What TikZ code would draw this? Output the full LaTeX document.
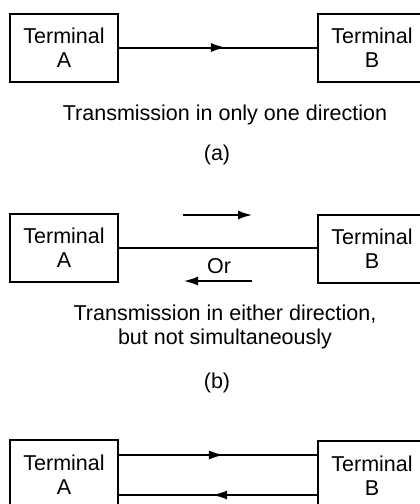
\documentclass[tikz,border=0pt]{standalone}
\usepackage{fontspec}
\setmainfont{Liberation Sans}
\usetikzlibrary{arrows.meta,decorations.markings}
\tikzset{
  term/.style={draw, line width=2pt, minimum width=108pt, minimum height=68pt,
    inner sep=0pt, align=center, font=\fontsize{21.5}{24}\selectfont},
  captext/.style={align=center, font=\fontsize{21.5}{24}\selectfont, inner sep=0pt},
  wire/.style={line width=2pt},
  midarrow/.style={postaction={decorate}, decoration={markings,
    mark=at position #1 with {\arrow{Latex[length=15pt,width=9pt]}}}},
  freearrow/.style={line width=1.5pt, -{Latex[length=14pt,width=9pt]}}
}
\begin{document}
\begin{tikzpicture}[x=1pt,y=-1pt]
\useasboundingbox (0,0) rectangle (420,504);
\clip (0,0) rectangle (420,504);
% (a)
\node[term] (a1) at (64,47.5) {Terminal\\A};
\node[term] (b1) at (372,48) {Terminal\\B};
\draw[wire, midarrow=0.54] (a1.east) -- (b1.west |- a1.east);
\node[captext] (ta) at (225,115) {Transmission in only one direction};
\node[captext] (la) at (217,155) {(a)};
% (b)
\node[term] (a2) at (64,247.5) {Terminal\\A};
\node[term] (b2) at (372,248.5) {Terminal\\B};
\draw[wire] (a2.east) -- (b2.west |- a2.east);
\coordinate (u1) at (183,215);
\coordinate (u2) at (252,215);
\coordinate (d1) at (252,281);
\coordinate (d2) at (184,281);
\draw[freearrow] (u1) -- (u2);
\draw[freearrow] (d1) -- (d2);
\node[captext] (or) at (219,266) {Or};
\node[captext] (tb) at (225,327) {Transmission in either direction,\\but not simultaneously};
\node[captext] (lb) at (217,383) {(b)};
% (c)
\node[term, minimum height=70pt] (a3) at (64,475) {Terminal\\A};
\node[term, minimum height=70pt] (b3) at (372,476) {Terminal\\B};
\draw[wire, midarrow=0.53] ([yshift=20pt]a3.east) -- ([yshift=20pt]a3.east -| b3.west);
\draw[wire, midarrow=0.53] ([yshift=-20pt]a3.east -| b3.west) -- ([yshift=-20pt]a3.east);
\end{tikzpicture}
\end{document}
